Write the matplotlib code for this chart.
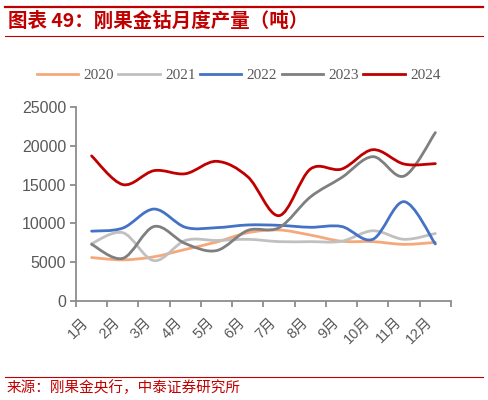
import matplotlib
matplotlib.use("Agg")
import matplotlib.pyplot as plt
from matplotlib.path import Path
from matplotlib.patches import PathPatch
from matplotlib.lines import Line2D
import numpy as np

# --- Data (tonnes) -----------------------------------------------------------
MONTHS = ["1月", "2月", "3月", "4月", "5月", "6月",
          "7月", "8月", "9月", "10月", "11月", "12月"]
Y2020 = [5600, 5300, 5700, 6650, 7600, 8800, 9150, 8500, 7700, 7650, 7300, 7550]
Y2021 = [7400, 8800, 5200, 7800, 7800, 7950, 7650, 7650, 7700, 9050, 7950, 8700]
Y2022 = [9000, 9400, 11850, 9500, 9450, 9800, 9750, 9500, 9600, 7950, 12800, 7350]
Y2023 = [7300, 5500, 9600, 7400, 6500, 9100, 9450, 13400, 15900, 18600, 16100, 21700]
Y2024 = [18700, 15000, 16800, 16400, 18000, 16000, 11000, 17000, 17000, 19500, 17650, 17700]
YEARS = ["2020", "2021", "2022", "2023", "2024"]
# -----------------------------------------------------------------------------

COLORS = ["#F5A97A", "#C0C0C0", "#4472C4", "#7F7F7F", "#C00000"]
GREY = "#595959"
RED = "#C00000"
CJK = ["Liberation Sans", "Noto Sans CJK SC"]


def smooth_path(x, y):
    # Excel-style smoothed line: cubic Bezier segments (Catmull-Rom tangents)
    pts = np.column_stack([x, y]).astype(float)
    ext = np.vstack([pts[0], pts, pts[-1]])
    verts = [pts[0]]
    codes = [Path.MOVETO]
    for i in range(len(pts) - 1):
        p0, p1, p2, p3 = ext[i], ext[i + 1], ext[i + 2], ext[i + 3]
        c1 = p1 + (p2 - p0) / 6.0
        c2 = p2 - (p3 - p1) / 6.0
        verts += [c1, c2, p2]
        codes += [Path.CURVE4] * 3
    return Path(verts, codes)


fig = plt.figure(figsize=(4.88, 4.0), dpi=100)

# header / footer rules and texts
fig.add_artist(Line2D([0.01, 0.99], [0.982, 0.982], color=RED, lw=1.6))
fig.add_artist(Line2D([0.01, 0.99], [0.911, 0.911], color=RED, lw=0.8))
fig.text(0.016, 0.946, "图表 49：刚果金钴月度产量（吨）", color=RED, fontsize=14,
         fontweight="bold", family=["Noto Sans CJK SC", "DejaVu Sans"], va="center")
fig.add_artist(Line2D([0.01, 0.99], [0.058, 0.058], color=RED, lw=0.8))
fig.text(0.014, 0.030, "来源：刚果金央行，中泰证券研究所", color=RED, fontsize=10.5,
         family=["Noto Sans CJK SC", "DejaVu Sans"], va="center")

ax = fig.add_axes([0.1557, 0.2475, 0.7684, 0.485])
x = np.arange(1, len(MONTHS) + 1)
series = [Y2020, Y2021, Y2022, Y2023, Y2024]
for vals, col in zip(series, COLORS):
    ax.add_patch(PathPatch(smooth_path(x, vals), facecolor="none",
                           edgecolor=col, lw=2.0, capstyle="round"))

ax.set_xlim(0.5, 12.5)
ax.set_ylim(0, 25000)
ax.set_yticks(range(0, 25001, 5000))
ax.set_yticklabels([str(v) for v in range(0, 25001, 5000)])
ax.set_xticks(np.arange(0.5, 12.6, 1.0))
ax.set_xticklabels([])
ax.set_xticks(x, minor=True)
ax.set_xticklabels(MONTHS, minor=True, rotation=45, ha="right", va="top")

for side in ["top", "right"]:
    ax.spines[side].set_visible(False)
for side in ["left", "bottom"]:
    ax.spines[side].set_color("#8C8C8C")
    ax.spines[side].set_linewidth(1.3)
ax.tick_params(axis="both", which="major", direction="out", length=4,
               width=1.3, color="#8C8C8C", labelcolor=GREY)
ax.tick_params(axis="y", labelsize=11.5, pad=3)
ax.tick_params(axis="x", which="minor", length=0, labelsize=10.5,
               labelcolor=GREY, pad=10)
for lab in ax.get_yticklabels():
    lab.set_family(CJK)
for lab in ax.get_xticklabels(minor=True):
    lab.set_family(CJK)

handles = [Line2D([], [], color=c, lw=2.0) for c in COLORS]
leg = fig.legend(handles, YEARS, loc="center", bbox_to_anchor=(0.489, 0.8125),
                 ncol=5, frameon=False, handlelength=2.7, handletextpad=0.35,
                 columnspacing=0.3, prop={"family": "Liberation Serif", "size": 11})
for t in leg.get_texts():
    t.set_color(GREY)

fig.savefig("out.png", dpi=100)
